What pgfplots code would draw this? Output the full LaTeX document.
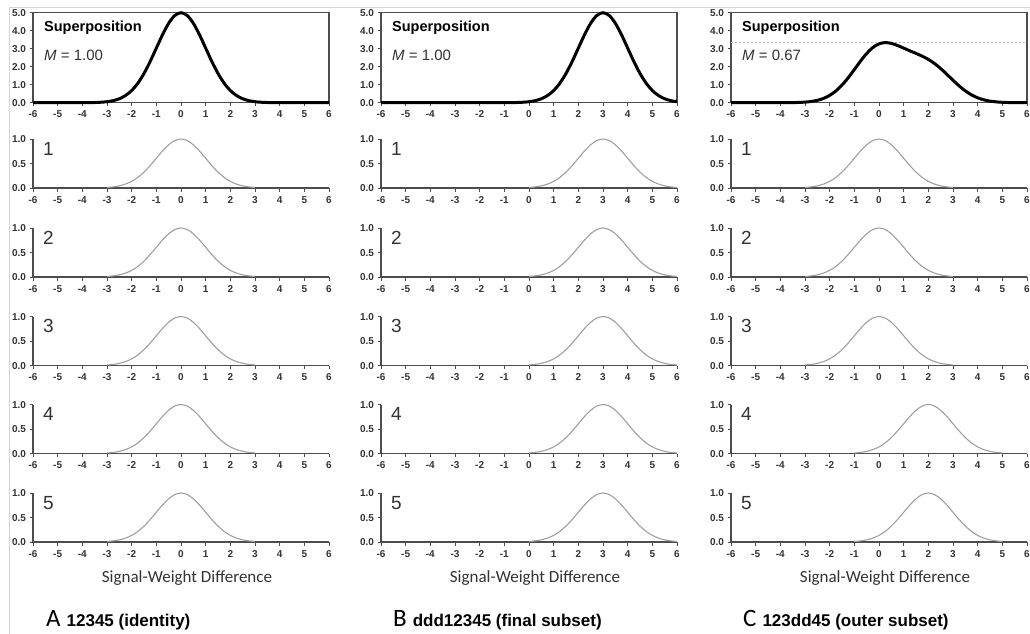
\documentclass[border=0pt]{standalone}
\usepackage{pgfplots}
\pgfplotsset{compat=1.18}
\usepackage{pgfplotstable}
\usepackage{fontspec}
\setmainfont{Liberation Sans}
\newfontfamily\calibri{Carlito}

\definecolor{axisgray}{HTML}{4D4D4D}
\definecolor{curvegray}{HTML}{A0A0A0}
\definecolor{ticktext}{HTML}{333333}
\definecolor{framegray}{HTML}{D4D4D4}
\definecolor{dashgray}{HTML}{B8B8B8}

% single gaussians (sd 1), centred at 0, 3 and 2
\pgfplotstableread{
x y
-3 0.011
-2.75 0.023
-2.5 0.044
-2.25 0.080
-2 0.135
-1.75 0.216
-1.5 0.325
-1.25 0.458
-1 0.607
-0.75 0.755
-0.5 0.882
-0.25 0.969
0 1.000
0.25 0.969
0.5 0.882
0.75 0.755
1 0.607
1.25 0.458
1.5 0.325
1.75 0.216
2 0.135
2.25 0.080
2.5 0.044
2.75 0.023
3 0.011
}\gzero

\pgfplotstableread{
x y
0 0.011
0.25 0.023
0.5 0.044
0.75 0.080
1 0.135
1.25 0.216
1.5 0.325
1.75 0.458
2 0.607
2.25 0.755
2.5 0.882
2.75 0.969
3 1.000
3.25 0.969
3.5 0.882
3.75 0.755
4 0.607
4.25 0.458
4.5 0.325
4.75 0.216
5 0.135
5.25 0.080
5.5 0.044
5.75 0.023
6 0.011
}\gthree

\pgfplotstableread{
x y
-1 0.011
-0.75 0.023
-0.5 0.044
-0.25 0.080
0 0.135
0.25 0.216
0.5 0.325
0.75 0.458
1 0.607
1.25 0.755
1.5 0.882
1.75 0.969
2 1.000
2.25 0.969
2.5 0.882
2.75 0.755
3 0.607
3.25 0.458
3.5 0.325
3.75 0.216
4 0.135
4.25 0.080
4.5 0.044
4.75 0.023
5 0.011
}\gtwo

% superpositions
\pgfplotstableread{
x y
-6 0
-4.5 0
-4 0.002
-3.75 0.004
-3.5 0.011
-3.25 0.026
-3 0.056
-2.75 0.114
-2.5 0.220
-2.25 0.398
-2 0.677
-1.75 1.082
-1.5 1.624
-1.25 2.289
-1 3.033
-0.75 3.774
-0.5 4.413
-0.25 4.846
0 5.000
0.25 4.846
0.5 4.413
0.75 3.774
1 3.033
1.25 2.289
1.5 1.624
1.75 1.082
2 0.677
2.25 0.398
2.5 0.220
2.75 0.114
3 0.056
3.25 0.026
3.5 0.011
3.75 0.004
4 0.002
4.5 0
6 0
}\supA

\pgfplotstableread{
x y
-6 0
-1.5 0
-1 0.002
-0.75 0.004
-0.5 0.011
-0.25 0.026
0 0.056
0.25 0.114
0.5 0.220
0.75 0.398
1 0.677
1.25 1.082
1.5 1.624
1.75 2.289
2 3.033
2.25 3.774
2.5 4.413
2.75 4.846
3 5.000
3.25 4.846
3.5 4.413
3.75 3.774
4 3.033
4.25 2.289
4.5 1.624
4.75 1.082
5 0.677
5.25 0.398
5.5 0.220
5.75 0.114
6 0.056
}\supB

\pgfplotstableread{
x y
-6 0
-4.5 0
-4 0.001
-3.75 0.003
-3.5 0.007
-3.25 0.015
-3 0.033
-2.75 0.068
-2.5 0.132
-2.25 0.239
-2 0.407
-1.75 0.651
-1.5 0.979
-1.25 1.384
-1 1.842
-0.75 2.310
-0.5 2.735
-0.25 3.067
0 3.271
0.25 3.340
0.5 3.297
0.75 3.180
1 3.033
1.25 2.883
1.5 2.739
1.75 2.587
2 2.406
2.25 2.177
2.5 1.897
2.75 1.578
3 1.246
3.25 0.931
3.5 0.656
3.75 0.435
4 0.272
4.25 0.160
4.5 0.088
4.75 0.046
5 0.022
5.25 0.010
5.5 0.004
6 0
}\supC

\pgfplotsset{
  panelbase/.style={
    scale only axis, width=296pt,
    xmin=-6, xmax=6, xtick={-6,-5,...,6},
    ymin=0, clip=false,
    tick align=outside, major tick length=3.5pt,
    tick style={axisgray, line width=0.9pt},
    axis line style={axisgray, line width=1.1pt},
    ticklabel style={font=\bfseries\fontsize{10}{11}\selectfont, text=ticktext, text height=7.2pt, text depth=0pt},
    /pgf/number format/assume math mode=true,
    y tick label style={/pgf/number format/.cd, fixed, fixed zerofill, precision=1, /tikz/.cd},
    xticklabel style={yshift=-1pt},
    anchor=south west,
  },
  toppanel/.style={panelbase, height=90pt, ymax=5, ytick={0,1,...,5},
    xtick pos=bottom, ytick pos=left},
  smallpanel/.style={panelbase, height=49pt, ymax=1, ytick={0,0.5,1},
    axis x line*=bottom, axis y line*=left},
  supline/.style={black, line width=3pt, smooth},
  gline/.style={curvegray, line width=1.1pt, smooth},
}

\newcommand{\toppanel}[3]{%
  \begin{axis}[toppanel, at={(#1pt,-102.7pt)}]
    #3
    \addplot[supline] table {#2};
  \end{axis}}
\newcommand{\smallpanel}[3]{%
  \begin{axis}[smallpanel, at={(#1pt,-#2pt)}]
    \addplot[gline] table {#3};
  \end{axis}}

\begin{document}
\begin{tikzpicture}
\useasboundingbox (0,0) rectangle (1030pt,-633pt);
\fill[white] (0,0) rectangle (1030pt,-633pt);
\draw[framegray, line width=0.8pt] (9pt,-640pt) -- (9pt,-7pt) -- (1040pt,-7pt);

% column A
\toppanel{33}{\supA}{}
\smallpanel{33}{188}{\gzero}
\smallpanel{33}{277}{\gzero}
\smallpanel{33}{365.5}{\gzero}
\smallpanel{33}{453.5}{\gzero}
\smallpanel{33}{542}{\gzero}

% column B
\toppanel{381}{\supB}{}
\smallpanel{381}{188}{\gthree}
\smallpanel{381}{277}{\gthree}
\smallpanel{381}{365.5}{\gthree}
\smallpanel{381}{453.5}{\gthree}
\smallpanel{381}{542}{\gthree}

% column C
\toppanel{731}{\supC}{\addplot[dashgray, line width=0.9pt, dash pattern=on 2pt off 2pt] coordinates {(-6,3.34) (6,3.34)};}
\smallpanel{731}{188}{\gzero}
\smallpanel{731}{277}{\gzero}
\smallpanel{731}{365.5}{\gzero}
\smallpanel{731}{453.5}{\gtwo}
\smallpanel{731}{542}{\gtwo}

% text
\foreach \xl/\mv in {33/1.00, 381/1.00, 731/0.67} {
  \node[anchor=west, inner sep=0pt, font=\bfseries\fontsize{14.5}{16}\selectfont] at (\xl pt+11pt,-28pt) {Superposition};
  \node[anchor=west, inner sep=0pt, font=\fontsize{15}{16}\selectfont, text=ticktext] at (\xl pt+11pt,-55pt) {\textit{M}\ =\ \mv};
  \foreach \n/\yc in {1/149, 2/238, 3/326, 4/414, 5/503}
    \node[anchor=west, inner sep=0pt, font=\fontsize{19}{20}\selectfont, text=ticktext] at (\xl pt+10pt,-\yc pt) {\n};
  \node[inner sep=0pt, font=\calibri\fontsize{17}{18}\selectfont, text=ticktext] at (\xl pt+154pt,-578pt) {Signal-Weight Difference};
}
\node[anchor=base west, inner sep=0pt] at (46pt,-626pt) {{\calibri\fontsize{25}{26}\selectfont A}\hspace{6pt}{\bfseries\fontsize{17}{18}\selectfont 12345 (identity)}};
\node[anchor=base west, inner sep=0pt] at (393pt,-626pt) {{\calibri\fontsize{25}{26}\selectfont B}\hspace{6pt}{\bfseries\fontsize{17}{18}\selectfont ddd12345 (final subset)}};
\node[anchor=base west, inner sep=0pt] at (743pt,-626pt) {{\calibri\fontsize{25}{26}\selectfont C}\hspace{6pt}{\bfseries\fontsize{17}{18}\selectfont 123dd45 (outer subset)}};
\end{tikzpicture}
\end{document}
